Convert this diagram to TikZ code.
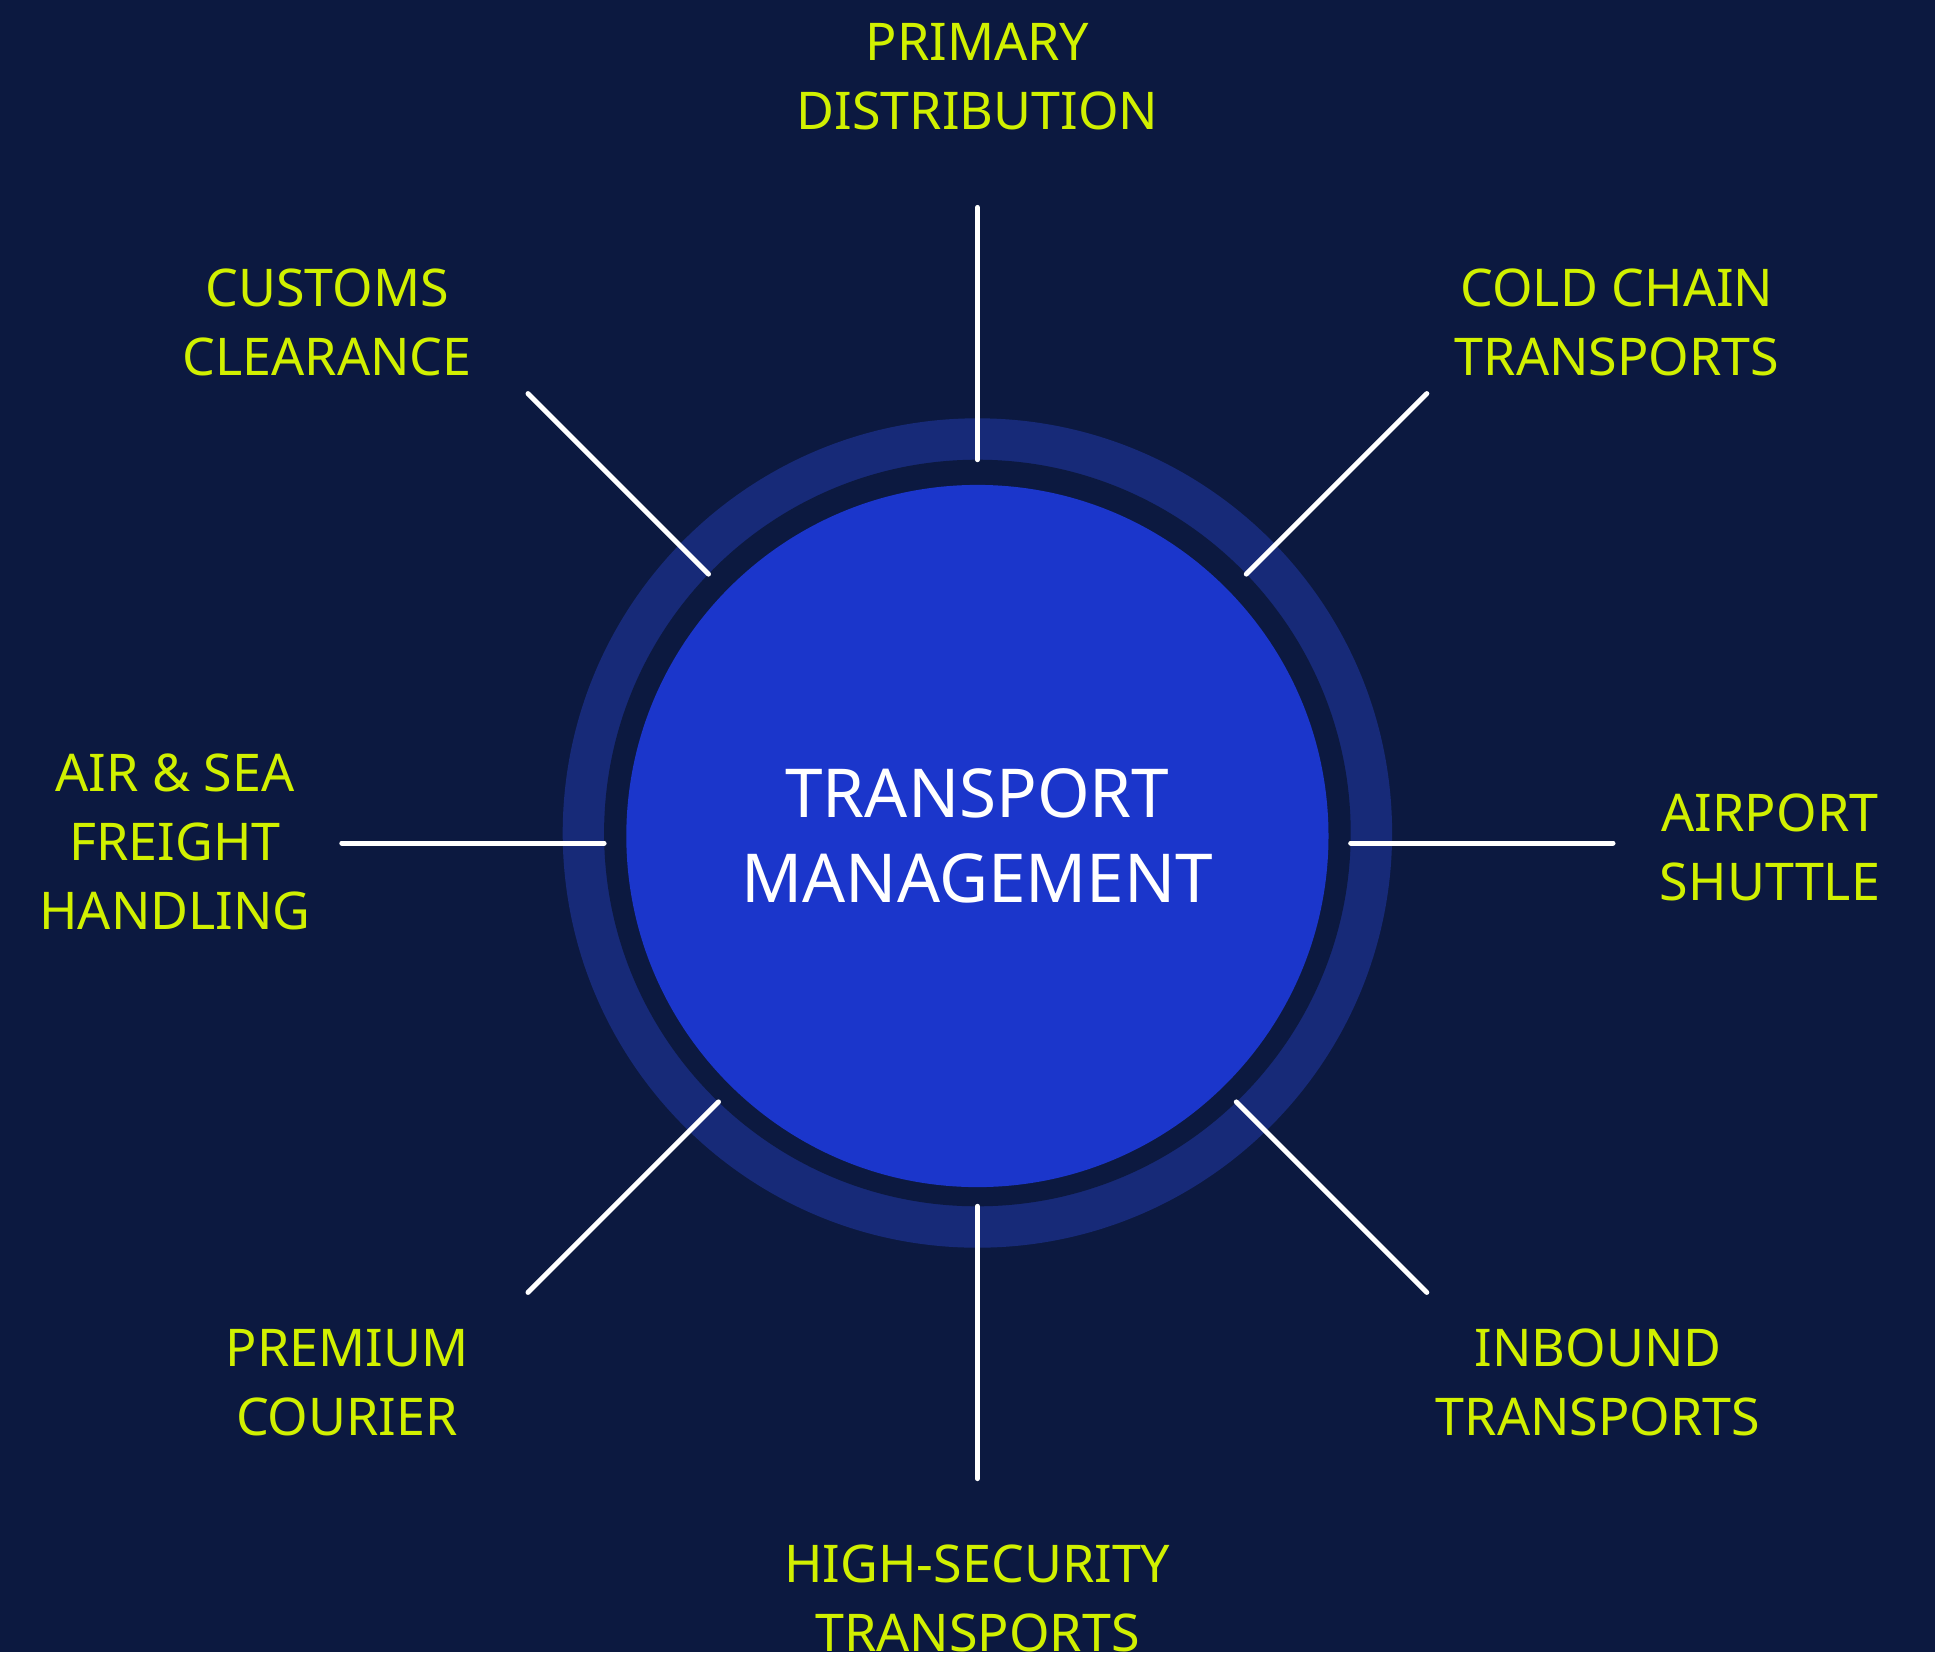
\documentclass[tikz,border=0pt]{standalone}
\usepackage{fontspec}
\setmainfont{Noto Sans}
\definecolor{bgnavy}{HTML}{0C1940}
\definecolor{ringblue}{HTML}{172A78}
\definecolor{coreblue}{HTML}{1B36CB}
\definecolor{lime}{HTML}{D1F000}
\tikzset{
  lbl/.style={text=lime, align=center, inner sep=0pt, font=\fontsize{52}{69}\selectfont},
  spoke/.style={draw=white, line width=5pt, line cap=round},
}
\begin{document}
\begin{tikzpicture}[x=1pt,y=-1pt]
\useasboundingbox (0,0) rectangle (1935,1652);
\fill[bgnavy] (0,0) rectangle (1935,1652);
% rings
\fill[ringblue] (977.4,833) circle[radius=414.7];
\fill[bgnavy] (977.4,833) circle[radius=373.3];
\node[circle, fill=coreblue, minimum size=702.2pt, inner sep=0pt, text=white, align=center,
      font=\fontsize{67.5}{85}\selectfont] (hub) at (977.4,836) {TRANSPORT\\MANAGEMENT};
% spoke endpoints
\coordinate (inN) at (977.4,459.7);   \coordinate (outN) at (977.4,207.4);
\coordinate (inS) at (977.4,1206.3);  \coordinate (outS) at (977.4,1478.6);
\coordinate (inW) at (604.1,843);     \coordinate (outW) at (341.8,843);
\coordinate (inE) at (1350.7,843);    \coordinate (outE) at (1613.0,843);
\coordinate (inNW) at (708.5,574.1);  \coordinate (outNW) at (528.0,393.6);
\coordinate (inNE) at (1246.3,574.1); \coordinate (outNE) at (1426.8,393.6);
\coordinate (inSW) at (718.5,1101.9); \coordinate (outSW) at (528.0,1292.4);
\coordinate (inSE) at (1236.3,1101.9);\coordinate (outSE) at (1426.8,1292.4);
\foreach \d in {N,S,W,E,NW,NE,SW,SE}{
  \draw[spoke] (in\d) -- (out\d);
}
% labels
\node[lbl] (lN)  at (977.4,76.5)   {PRIMARY\\DISTRIBUTION};
\node[lbl] (lNW) at (327,322.5)    {CUSTOMS\\CLEARANCE};
\node[lbl] (lNE) at (1617,322.5)   {COLD CHAIN\\TRANSPORTS};
\node[lbl] (lW)  at (175,842)      {AIR \& SEA\\FREIGHT\\HANDLING};
\node[lbl] (lE)  at (1770,847.5)   {AIRPORT\\SHUTTLE};
\node[lbl] (lSW) at (347,1382.5)   {PREMIUM\\COURIER};
\node[lbl] (lSE) at (1598,1382.5)  {INBOUND\\TRANSPORTS};
\node[lbl] (lS)  at (977.4,1598.5) {HIGH-SECURITY\\TRANSPORTS};
\end{tikzpicture}
\end{document}
